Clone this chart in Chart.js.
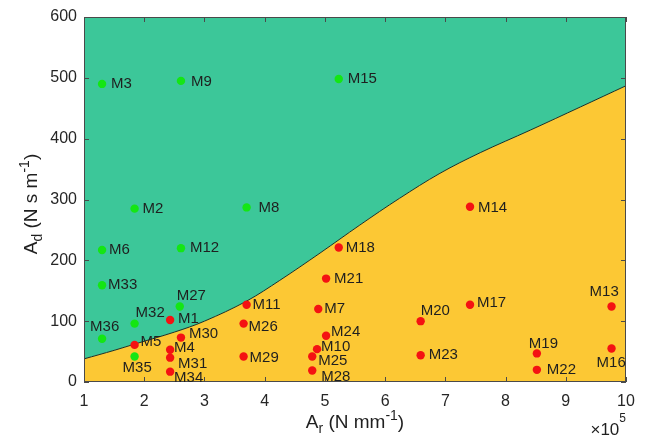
<!DOCTYPE html>
<html>
<head>
<meta charset="utf-8">
<script src="https://cdn.jsdelivr.net/npm/chart.js@4.4.0/dist/chart.umd.min.js"></script>
<style>
  html, body { margin: 0; padding: 0; background: #fff; }
  #wrap { width: 648px; height: 443px; }
</style>
</head>
<body>
<div id="wrap"><canvas id="chart" width="648" height="443"></canvas></div>
<script>
// A_r in units of 1e5 N/mm, A_d in N s/m
const boundaryX = [1.0, 1.5, 1.83, 2.5, 3.0, 3.7, 4.25, 4.92, 5.58, 6.24, 6.91, 7.58, 8.41, 9.24, 10.0];
const boundaryY = [38, 52, 62, 82, 100, 133, 167, 212, 258, 302, 343, 377, 414, 452, 487];

const greenNames = ['M3', 'M9', 'M15', 'M2', 'M8', 'M6', 'M12', 'M33', 'M27', 'M32', 'M36', 'M35'];
const greenX = [1.30, 2.61, 5.23, 1.84, 3.70, 1.30, 2.61, 1.30, 2.59, 1.84, 1.30, 1.84];
const greenY = [490, 495, 498, 285, 287, 217, 220, 159, 124, 96, 71, 42];

const redNames = ['M1', 'M5', 'M30', 'M4', 'M31', 'M34', 'M11', 'M26', 'M29', 'M7', 'M21', 'M18',
                  'M24', 'M10', 'M25', 'M28', 'M14', 'M17', 'M20', 'M23', 'M19', 'M22', 'M13', 'M16'];
const redX = [2.43, 1.84, 2.61, 2.43, 2.43, 2.43, 3.70, 3.65, 3.65, 4.89, 5.02, 5.23,
              5.02, 4.87, 4.79, 4.79, 7.41, 7.41, 6.59, 6.59, 8.52, 8.52, 9.76, 9.76];
const redY = [102, 61, 73, 53, 40, 17, 127, 96, 42, 120, 170, 221,
              76, 54, 42, 19, 288, 127, 100, 44, 47, 20, 124, 55];

const xTicks = [1, 2, 3, 4, 5, 6, 7, 8, 9, 10];
const yTicks = [0, 100, 200, 300, 400, 500, 600];

// where each name sits relative to its dot: [left edge dx, middle dy] in px
const labelOffset = {
  M3: [9, 0], M9: [10, 1], M15: [9, 0], M2: [8, 0], M8: [12, 0], M6: [7, 0], M12: [9, 0],
  M33: [6, 0], M27: [-3, -11], M32: [1, -11], M36: [-12, -12], M35: [-12, 11],
  M1: [8, -1], M5: [6, -3], M30: [8, -4], M4: [4, -2], M31: [8, 6], M34: [4, 6],
  M11: [6, 0], M26: [5, 3], M29: [6, 1], M7: [6, 0], M21: [8, 0], M18: [7, 0],
  M24: [5, -4], M10: [4, -2], M25: [6, 4], M28: [9, 6], M14: [8, 1], M17: [7, -2],
  M20: [0, -10], M23: [8, 0], M19: [-8, -10], M22: [10, 0], M13: [-22, -15], M16: [-15, 14]
};

const FONT = '"Liberation Sans", Arial, sans-serif';
const AXIS_COLOR = '#4a4a4a';
const TEXT_COLOR = '#1f1f1f';

function toXY(xs, ys) { return xs.map((x, i) => ({ x: x, y: ys[i] })); }

// text run with sub/superscript pieces, centred on x
function drawRich(ctx, parts, x, y, size) {
  const small = Math.round(size * 0.72);
  let total = 0;
  const items = parts.map(([t, kind]) => {
    const fs = kind === 'n' ? size : small;
    ctx.font = fs + 'px ' + FONT;
    const w = ctx.measureText(t).width;
    total += w;
    const dy = kind === 'sub' ? size * 0.28 : kind === 'sup' ? -size * 0.42 : 0;
    return { t, fs, w, dy };
  });
  let cx = x - total / 2;
  ctx.textAlign = 'left';
  ctx.textBaseline = 'alphabetic';
  items.forEach(it => {
    ctx.font = it.fs + 'px ' + FONT;
    ctx.fillText(it.t, cx, y + it.dy);
    cx += it.w;
  });
}

const frame = {
  id: 'frame',
  afterDatasetsDraw(chart) {
    const { ctx, chartArea: a, scales } = chart;
    ctx.save();
    ctx.strokeStyle = AXIS_COLOR;
    ctx.lineWidth = 1;
    ctx.strokeRect(a.left + 0.5, a.top + 0.5, a.right - a.left - 1, a.bottom - a.top - 1);
    const tl = 5;
    ctx.beginPath();
    xTicks.forEach(v => {
      const px = Math.round(scales.x.getPixelForValue(v)) + 0.5;
      ctx.moveTo(px, a.bottom); ctx.lineTo(px, a.bottom - tl);
      ctx.moveTo(px, a.top); ctx.lineTo(px, a.top + tl);
    });
    yTicks.forEach(v => {
      const py = Math.round(scales.y.getPixelForValue(v)) + 0.5;
      ctx.moveTo(a.left, py); ctx.lineTo(a.left + tl, py);
      ctx.moveTo(a.right, py); ctx.lineTo(a.right - tl, py);
    });
    ctx.stroke();

    // point names
    ctx.fillStyle = TEXT_COLOR;
    ctx.font = '15px ' + FONT;
    ctx.textAlign = 'left';
    ctx.textBaseline = 'middle';
    const put = (names, xs, ys) => names.forEach((n, i) => {
      const off = labelOffset[n] || [8, 0];
      ctx.fillText(n, scales.x.getPixelForValue(xs[i]) + off[0], scales.y.getPixelForValue(ys[i]) + off[1]);
    });
    put(greenNames, greenX, greenY);
    put(redNames, redX, redY);

    // axis titles
    ctx.fillStyle = TEXT_COLOR;
    const midX = (a.left + a.right) / 2;
    drawRich(ctx, [['A', 'n'], ['r', 'sub'], [' (N mm', 'n'], ['-1', 'sup'], [')', 'n']], midX, 428, 19);
    ctx.save();
    ctx.translate(37, 204);
    ctx.rotate(-Math.PI / 2);
    drawRich(ctx, [['A', 'n'], ['d', 'sub'], [' (N s m', 'n'], ['-1', 'sup'], [')', 'n']], 0, 0, 19);
    ctx.restore();

    // exponent marker
    ctx.font = '12px ' + FONT;
    ctx.textAlign = 'right';
    ctx.textBaseline = 'alphabetic';
    const w5 = ctx.measureText('5').width;
    ctx.fillText('5', a.right, 422);
    ctx.font = '17px ' + FONT;
    ctx.fillText('\u00d710', a.right - w5, 435);
    ctx.restore();
  }
};

new Chart(document.getElementById('chart'), {
  type: 'scatter',
  data: {
    datasets: [
      {
        data: toXY(greenX, greenY),
        backgroundColor: '#14e614', borderWidth: 0,
        pointRadius: 4.2, pointHoverRadius: 4.2, order: 0
      },
      {
        data: toXY(redX, redY),
        backgroundColor: '#f41212', borderWidth: 0,
        pointRadius: 4.2, pointHoverRadius: 4.2, order: 0
      },
      {
        type: 'line',
        data: toXY(boundaryX, boundaryY),
        borderColor: '#1c2e24', borderWidth: 1,
        backgroundColor: '#3cc799',
        fill: 'end', pointRadius: 0,
        tension: 0.35, order: 1
      },
      {
        type: 'line',
        data: toXY(boundaryX, boundaryY),
        borderWidth: 0, borderColor: 'rgba(0,0,0,0)',
        backgroundColor: '#fcc834',
        fill: 'start', pointRadius: 0,
        tension: 0.35, order: 2
      }
    ]
  },
  options: {
    responsive: false,
    animation: false,
    layout: { padding: { top: 17, right: 22, left: 0, bottom: 0 } },
    plugins: { legend: { display: false }, tooltip: { enabled: false } },
    scales: {
      x: {
        type: 'linear', min: 1, max: 10,
        afterBuildTicks: s => { s.ticks = xTicks.map(v => ({ value: v })); },
        afterFit: s => { s.height = 61; },
        grid: { display: false, drawTicks: false, tickLength: 0 },
        border: { display: false },
        ticks: { color: '#262626', font: { family: FONT, size: 16 }, padding: 10, maxRotation: 0 }
      },
      y: {
        type: 'linear', min: 0, max: 600,
        afterBuildTicks: s => { s.ticks = yTicks.map(v => ({ value: v })); },
        afterFit: s => { s.width = 84; },
        grid: { display: false, drawTicks: false, tickLength: 0 },
        border: { display: false },
        ticks: { color: '#262626', font: { family: FONT, size: 16 }, padding: 7 }
      }
    }
  },
  plugins: [frame]
});
</script>
</body>
</html>
